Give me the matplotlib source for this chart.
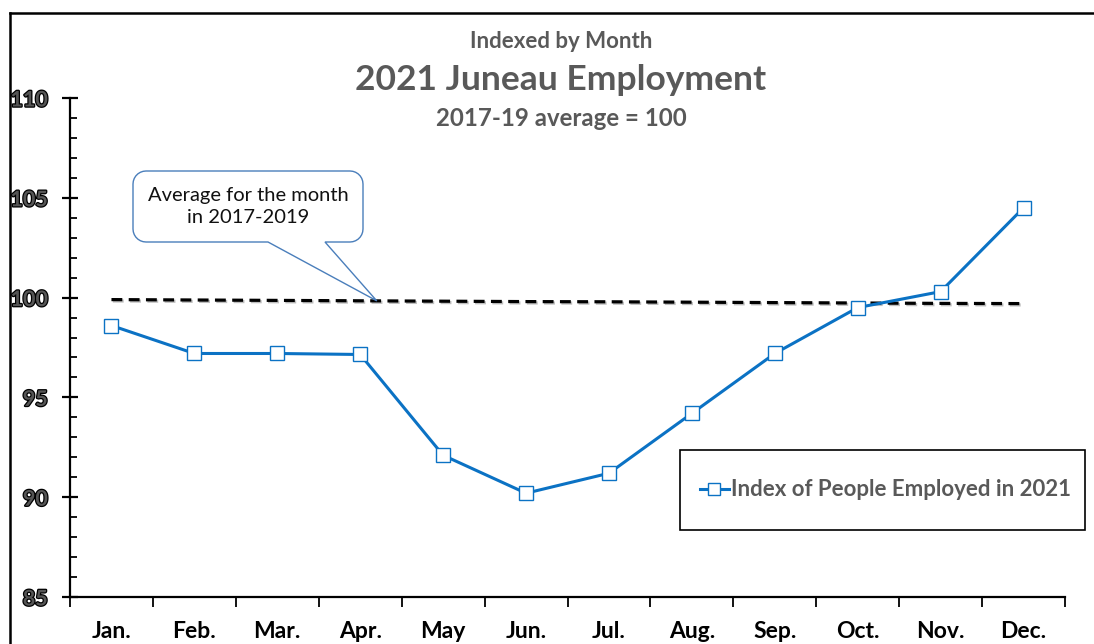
import numpy as np
import matplotlib
matplotlib.use("Agg")
import matplotlib.pyplot as plt
from matplotlib.path import Path
from matplotlib.patches import PathPatch, Rectangle
from matplotlib.lines import Line2D
from matplotlib.ticker import MultipleLocator, FixedLocator
import matplotlib.patheffects as pe

plt.rcParams['font.family'] = ['Lato', 'DejaVu Sans']

months = ["Jan.", "Feb.", "Mar.", "Apr.", "May", "Jun.", "Jul.", "Aug.", "Sep.", "Oct.", "Nov.", "Dec."]
index_2021 = [98.6, 97.2, 97.2, 97.15, 92.1, 90.2, 91.2, 94.2, 97.2, 99.5, 100.3, 104.5]
avg_1719 = [99.9, 99.88, 99.86, 99.84, 99.82, 99.8, 99.79, 99.77, 99.75, 99.73, 99.71, 99.7]

BLUE = "#0B72C4"
GRAY = "#595959"

W, H = 1094, 644
fig = plt.figure(figsize=(W / 100, H / 100), dpi=100)
ax = fig.add_axes([70 / W, 1 - 597 / H, (1065 - 70) / W, (597 - 98) / H])

x = np.arange(len(months))
ax.plot(x[:len(avg_1719)], avg_1719, color="black", lw=2.3, ls=(0, (3.4, 2.0)), zorder=3,
        path_effects=[pe.SimpleLineShadow(offset=(1, -1), alpha=0.25), pe.Normal()])
ax.plot(x, index_2021, color=BLUE, lw=2.2, marker="s", ms=10.5, mfc="white", mec=BLUE, mew=1.0,
        zorder=4, label="Index of People Employed in 2021")

ax.set_xlim(-0.5, 11.5)
ax.set_ylim(85, 110)
for s in ("top", "right"):
    ax.spines[s].set_visible(False)
for s in ("left", "bottom"):
    ax.spines[s].set_linewidth(1.6)

ax.yaxis.set_major_locator(MultipleLocator(5))
ax.yaxis.set_minor_locator(MultipleLocator(1))
ax.tick_params(axis="y", which="major", direction="inout", length=12, width=1.6, pad=10)
ax.tick_params(axis="y", which="minor", direction="in", length=5, width=1.3)
for lbl in ax.get_yticklabels():
    lbl.set_fontsize(15.5)
    lbl.set_fontweight("bold")
    lbl.set_color("#555555")
    lbl.set_path_effects([pe.withStroke(linewidth=1.8, foreground="black")])

ax.set_xticks(x)
ax.set_xticklabels(months, fontsize=16.5, fontweight="bold")
ax.xaxis.set_minor_locator(FixedLocator(np.arange(-0.5, 12, 1)))
ax.tick_params(axis="x", which="major", length=0, pad=17)
ax.tick_params(axis="x", which="minor", direction="out", length=7, width=1.3)

# titles, centred over the plot area
tx = 561 / W
fig.text(tx, 1 - 41 / H, "Indexed by Month", ha="center", va="center", fontsize=16,
         fontweight="bold", color=GRAY)
fig.text(tx, 1 - 80 / H, "2021 Juneau Employment", ha="center", va="center", fontsize=25.5,
         fontweight="bold", color=GRAY)
fig.text(tx, 1 - 118 / H, "2017-19 average = 100", ha="center", va="center", fontsize=17.3,
         fontweight="bold", color=GRAY)

# outer frame
fig.add_artist(Line2D([10 / W, 1], [1 - 13 / H, 1 - 13 / H], color="black", lw=1.8,
                      transform=fig.transFigure))
fig.add_artist(Line2D([10 / W, 10 / W], [0, 1 - 13 / H], color="black", lw=1.8,
                      transform=fig.transFigure))

# legend box
fig.add_artist(Rectangle((680 / W, 1 - 530 / H), 405 / W, 80 / H, transform=fig.transFigure,
                         fill=False, ec="black", lw=1.2))
fig.legend(loc="center", bbox_to_anchor=((683 + 405 / 2) / W, 1 - 490 / H), frameon=False,
           prop={"size": 16, "weight": "bold"}, labelcolor=GRAY, handlelength=1.3,
           handletextpad=0.12, markerscale=0.85)

# callout pointing at the dashed average line
def callout_path(x0, y0, x1, y1, r, base_a, base_b, tip):
    # rounded box in display coords (y up), with a wedge leaving the bottom edge
    verts, codes = [], []
    def arc(cx, cy, a0, a1):
        for t in np.linspace(np.radians(a0), np.radians(a1), 8):
            verts.append((cx + r * np.cos(t), cy + r * np.sin(t)))
            codes.append(Path.LINETO)
    verts.append((x0 + r, y0)); codes.append(Path.MOVETO)
    verts.append((base_a, y0)); codes.append(Path.LINETO)
    verts.append(tip); codes.append(Path.LINETO)
    verts.append((base_b, y0)); codes.append(Path.LINETO)
    verts.append((x1 - r, y0)); codes.append(Path.LINETO)
    arc(x1 - r, y0 + r, -90, 0)
    verts.append((x1, y1 - r)); codes.append(Path.LINETO)
    arc(x1 - r, y1 - r, 0, 90)
    verts.append((x0 + r, y1)); codes.append(Path.LINETO)
    arc(x0 + r, y1 - r, 90, 180)
    verts.append((x0, y0 + r)); codes.append(Path.LINETO)
    arc(x0 + r, y0 + r, 180, 270)
    verts.append((x0 + r, y0)); codes.append(Path.CLOSEPOLY)
    return Path(verts, codes)

tip = ax.transData.transform((3.2, np.interp(3.2, x, avg_1719)))
bx0, by0 = 133, H - 242
bx1, by1 = 363, H - 171
cpath = callout_path(bx0, by0, bx1, by1, 13, 268, 325, tuple(tip))
fig.add_artist(PathPatch(cpath, transform=matplotlib.transforms.IdentityTransform(),
                         fc="white", ec="#4A7EBB", lw=1.0, zorder=5))
fig.text((bx0 + bx1) / 2 / W, (by0 + by1) / 2 / H, "Average for the month\nin 2017-2019",
         ha="center", va="center", fontsize=14.5, color="#111111", linespacing=1.35, zorder=6)

fig.savefig("out.png", dpi=100)
